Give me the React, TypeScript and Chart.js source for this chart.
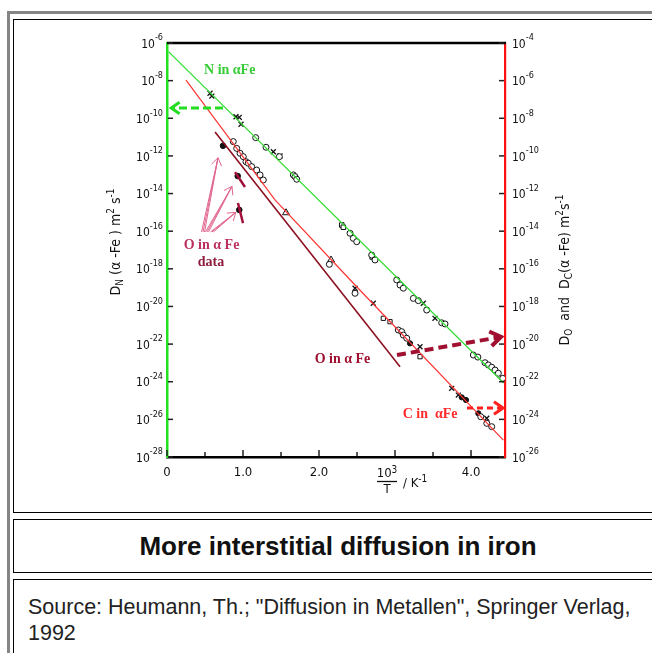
import React, { useEffect, useRef } from "react";
import { Chart, registerables } from "chart.js";

Chart.register(...registerables);

// x: 10^3/T in K^-1 ; values: log10 of D in m^2 s^-1
const xTickValues = [0, 0.5, 1, 1.5, 2, 2.5, 3, 3.5, 4];
const xTickLabels = ["0", "", "1.0", "", "2.0", "", "", "", "4.0"];
const leftExponents = [-28, -26, -24, -22, -20, -18, -16, -14, -12, -10, -8, -6];
const rightExponents = [-26, -24, -22, -20, -18, -16, -14, -12, -10, -8, -6, -4];

// N in alpha-Fe (left axis)
const nLineX = [0.02, 4.43];
const nLineLog = [-6.46, -24.07];
const nCircleX = [1.167, 1.303, 1.478, 1.662, 1.684, 1.707, 2.408, 2.451, 2.496, 2.693, 2.737, 3.022, 3.066, 3.109, 3.241, 3.307, 3.417, 3.614, 3.658, 4.03, 4.09, 4.184, 4.228, 4.272, 4.316, 4.359, 4.417];
const nCircleLog = [-11.03, -11.54, -12.04, -13.01, -13.1, -13.24, -16.11, -16.38, -16.56, -17.27, -17.53, -18.59, -18.86, -19.03, -19.57, -19.69, -20.19, -20.87, -20.93, -22.58, -22.69, -22.99, -23.11, -23.23, -23.38, -23.55, -23.82];
const nCrossX = [0.566, 0.59, 0.908, 0.951, 0.974, 1.399, 1.487, 3.372, 3.526];
const nCrossLog = [-8.67, -8.82, -9.92, -9.95, -10.32, -11.78, -12.0, -19.83, -20.63];
const nSquareX = [2.299, 2.32, 2.7];
const nSquareLog = [-15.67, -15.79, -17.37];

// C in alpha-Fe (right axis)
const cLineX = [0.25, 1.421, 2.474, 4.425];
const cLineLog = [-5.97, -12.34, -16.86, -25.1];
const cCircleX = [0.872, 0.917, 0.961, 1.004, 1.039, 1.07, 1.114, 1.18, 1.224, 1.267, 2.136, 2.474, 3.043, 3.088, 3.109, 3.154, 4.128, 4.207, 4.272];
const cCircleLog = [-9.24, -9.6, -9.86, -10.04, -10.31, -10.39, -10.57, -10.75, -11.01, -11.28, -15.76, -17.3, -19.25, -19.34, -19.52, -19.69, -23.86, -24.21, -24.39];
const cTriangleX = [1.566, 2.158];
const cTriangleLog = [-13.02, -15.53];
const cCrossX = [2.474, 2.714, 3.329, 3.746, 3.833, 4.207];
const cCrossLog = [-17.03, -17.83, -20.14, -22.35, -22.71, -23.94];
const cSquareX = [2.846, 2.934, 3.329];
const cSquareLog = [-18.63, -18.81, -20.67];
const cDotX = [3.197, 3.878, 3.934, 4.096];
const cDotLog = [-19.96, -22.83, -22.97, -23.68];

// O in alpha-Fe (right axis)
const oLineX = [0.632, 3.066];
const oLineLog = [-8.73, -21.2];
const oDotX = [0.737, 0.93, 0.951];
const oDotLog = [-9.46, -11.07, -12.87];
const oSeg1X = [0.895, 1.026];
const oSeg1Log = [-10.86, -11.65];
const oSeg2X = [0.934, 1.0];
const oSeg2Log = [-12.5, -13.57];

const pts = (xs: number[], ls: number[]) => xs.map((x, i) => ({ x, y: Math.pow(10, ls[i]) }));

const AXFONT = "'DejaVu Sans Condensed', 'DejaVu Sans', sans-serif";
const SERIF = "'Liberation Serif', 'DejaVu Serif', serif";

type Part = { t: string; s: number; dy: number };
function partsWidth(ctx: CanvasRenderingContext2D, parts: Part[], family: string, weight = "normal") {
  let w = 0;
  parts.forEach((p) => {
    ctx.font = `${weight} ${p.s}px ${family}`;
    w += ctx.measureText(p.t).width;
  });
  return w;
}
function drawParts(ctx: CanvasRenderingContext2D, parts: Part[], x: number, y: number, family: string, color: string, align: "center" | "left" | "right", weight = "normal") {
  const w = partsWidth(ctx, parts, family, weight);
  let cx = align === "center" ? x - w / 2 : align === "right" ? x - w : x;
  ctx.textAlign = "left";
  ctx.textBaseline = "middle";
  ctx.fillStyle = color;
  parts.forEach((p) => {
    ctx.font = `${weight} ${p.s}px ${family}`;
    ctx.fillText(p.t, cx, y + p.dy);
    cx += ctx.measureText(p.t).width;
  });
}

function arrow(ctx: CanvasRenderingContext2D, x1: number, y1: number, x2: number, y2: number, color: string, width: number, dash: number[], head: number) {
  ctx.save();
  ctx.strokeStyle = color;
  ctx.lineWidth = width;
  ctx.setLineDash(dash);
  ctx.beginPath();
  ctx.moveTo(x1, y1);
  ctx.lineTo(x2, y2);
  ctx.stroke();
  ctx.setLineDash([]);
  const a = Math.atan2(y2 - y1, x2 - x1);
  const h = 0.6;
  ctx.lineJoin = "miter";
  ctx.beginPath();
  ctx.moveTo(x2 - head * Math.cos(a - h), y2 - head * Math.sin(a - h));
  ctx.lineTo(x2, y2);
  ctx.lineTo(x2 - head * Math.cos(a + h), y2 - head * Math.sin(a + h));
  ctx.stroke();
  ctx.restore();
}

const powLabel = (v: number): Part[] => [
  { t: "10", s: 12, dy: 1.5 },
  { t: String(Math.round(Math.log10(v))), s: 9, dy: -5 },
];

const decorPlugin = {
  id: "decor",
  afterDraw(chart: any) {
    const ctx: CanvasRenderingContext2D = chart.ctx;
    const { left, right, top, bottom } = chart.chartArea;
    const xs = chart.scales.x;
    const ys = chart.scales.y;
    const ys2 = chart.scales.y2;
    const P = (x: number, e: number) => [xs.getPixelForValue(x), ys.getPixelForValue(Math.pow(10, e))];
    ctx.save();
    // top frame line
    ctx.strokeStyle = "#000";
    ctx.lineWidth = 2.5;
    ctx.beginPath();
    ctx.moveTo(left, top);
    ctx.lineTo(right + 1, top);
    ctx.stroke();
    // inward ticks and power-of-ten labels
    ctx.lineWidth = 1.5;
    ctx.strokeStyle = "#222";
    ys.ticks.forEach((t: any) => {
      const py = ys.getPixelForValue(t.value);
      ctx.beginPath();
      ctx.moveTo(left + 1, py);
      ctx.lineTo(left + 6, py);
      ctx.stroke();
      drawParts(ctx, powLabel(t.value), left - 4, py, AXFONT, "#111", "right");
    });
    ys2.ticks.forEach((t: any) => {
      const py = ys2.getPixelForValue(t.value);
      ctx.beginPath();
      ctx.moveTo(right - 6, py);
      ctx.lineTo(right - 1, py);
      ctx.stroke();
      drawParts(ctx, powLabel(t.value), right + 7, py, AXFONT, "#111", "left");
    });
    xs.ticks.forEach((t: any) => {
      const px = xs.getPixelForValue(t.value);
      const len = Number.isInteger(t.value) ? 6 : 4;
      ctx.beginPath();
      ctx.moveTo(px, bottom - 1);
      ctx.lineTo(px, bottom - 1 - len);
      ctx.stroke();
    });

    // left axis title
    ctx.save();
    ctx.translate(left - 51, (top + bottom) / 2 - 8);
    ctx.rotate(-Math.PI / 2);
    drawParts(ctx, [
      { t: "D", s: 14, dy: 0 },
      { t: "N", s: 10, dy: 4 },
      { t: " (α -Fe ) m", s: 14, dy: 0 },
      { t: "2", s: 10, dy: -5 },
      { t: " s", s: 14, dy: 0 },
      { t: "-1", s: 10, dy: -5 },
    ], 0, 0, AXFONT, "#111", "center");
    ctx.restore();

    // right axis title
    ctx.save();
    ctx.translate(right + 60, (top + bottom) / 2 + 20);
    ctx.rotate(-Math.PI / 2);
    drawParts(ctx, [
      { t: "D", s: 14, dy: 0 },
      { t: "O", s: 10, dy: 4 },
      { t: "  and  D", s: 14, dy: 0 },
      { t: "C", s: 10, dy: 4 },
      { t: "(α -Fe) m", s: 14, dy: 0 },
      { t: "2", s: 10, dy: -5 },
      { t: "s", s: 14, dy: 0 },
      { t: "-1", s: 10, dy: -5 },
    ], 0, 0, AXFONT, "#111", "center");
    ctx.restore();

    // x axis title: 10^3 / T  / K^-1
    const fx = xs.getPixelForValue(3) - 8;
    drawParts(ctx, [
      { t: "10", s: 13, dy: 0 },
      { t: "3", s: 10, dy: -4 },
    ], fx, bottom + 17, AXFONT, "#111", "center");
    ctx.strokeStyle = "#111";
    ctx.lineWidth = 1.3;
    ctx.beginPath();
    ctx.moveTo(fx - 10, bottom + 24.5);
    ctx.lineTo(fx + 10, bottom + 24.5);
    ctx.stroke();
    drawParts(ctx, [{ t: "T", s: 13, dy: 0 }], fx, bottom + 33, AXFONT, "#111", "center");
    drawParts(ctx, [
      { t: "/ K", s: 13, dy: 0 },
      { t: "-1", s: 10, dy: -5 },
    ], fx + 16, bottom + 27, AXFONT, "#111", "left");

    // labels
    let p = P(0.487, -7.43);
    drawParts(ctx, [{ t: "N in αFe", s: 14, dy: 0 }], p[0], p[1], SERIF, "#35cc35", "left", "bold");
    p = P(0.586, -16.73);
    drawParts(ctx, [{ t: "O in α Fe", s: 14, dy: 0 }], p[0], p[1], SERIF, "#bb3060", "center", "bold");
    p = P(0.579, -17.64);
    drawParts(ctx, [{ t: "data", s: 14, dy: 0 }], p[0], p[1], SERIF, "#8e1a3c", "center", "bold");
    p = P(2.309, -22.79);
    drawParts(ctx, [{ t: "O in α Fe", s: 14, dy: 0 }], p[0], p[1], SERIF, "#a01030", "center", "bold");
    p = P(3.461, -25.715);
    drawParts(ctx, [{ t: "C in  αFe", s: 14, dy: 0 }], p[0], p[1], SERIF, "#ff2a2a", "center", "bold");

    // arrows
    let a = P(0.737, -9.454), b = P(0.03, -9.454);
    arrow(ctx, a[0], a[1], b[0] + 2, b[1], "#22dd22", 3, [8, 4], 10);
    a = P(3.026, -22.58); b = P(4.395, -21.62);
    arrow(ctx, a[0], a[1], b[0], b[1], "#a01030", 4, [9, 5], 13);
    a = P(3.947, -25.4); b = P(4.421, -25.4);
    arrow(ctx, a[0], a[1], b[0], b[1], "#ff2020", 3, [6, 4], 11);

    // pink pointer arrows
    const pink: [number, number, number, number][] = [
      [0.474, -16.04, 0.671, -12.1],
      [0.526, -16.04, 0.855, -13.62],
      [0.592, -16.04, 0.905, -15.0],
    ];
    pink.forEach(([x1, e1, x2, e2]) => {
      const s = P(x1, e1), t = P(x2, e2);
      ctx.save();
      ctx.strokeStyle = "#e0668e";
      ctx.lineWidth = 1;
      ctx.beginPath();
      ctx.moveTo(s[0] - 1.5, s[1]);
      ctx.lineTo(t[0], t[1]);
      ctx.moveTo(s[0] + 1.5, s[1]);
      ctx.lineTo(t[0], t[1]);
      ctx.stroke();
      ctx.restore();
      arrow(ctx, s[0], s[1], t[0], t[1], "#e0668e", 1, [], 9);
    });
    ctx.restore();
  },
};

export default function App() {
  const ref = useRef<HTMLCanvasElement | null>(null);
  useEffect(() => {
    if (!ref.current) return;
    const marker = (data: any[], style: string, r: number, fill: string, axis: string, bw = 1) => ({
      type: "scatter" as const,
      data,
      yAxisID: axis,
      showLine: false,
      pointStyle: style,
      pointRadius: r,
      pointBorderColor: "#111",
      pointBackgroundColor: fill,
      pointBorderWidth: bw,
    });
    const line = (data: any[], color: string, width: number, axis: string) => ({
      type: "scatter" as const,
      data,
      yAxisID: axis,
      showLine: true,
      borderColor: color,
      borderWidth: width,
      pointRadius: 0,
      fill: false,
      tension: 0,
    });
    const chart = new Chart(ref.current, {
      type: "scatter",
      data: {
        datasets: [
          line(pts(nLineX, nLineLog), "#33dd33", 1.3, "y"),
          line(pts(cLineX, cLineLog), "#ff3333", 1.2, "y2"),
          line(pts(oLineX, oLineLog), "#8c1020", 1.6, "y2"),
          line(pts(oSeg1X, oSeg1Log), "#a0103a", 2.5, "y2"),
          line(pts(oSeg2X, oSeg2Log), "#a0103a", 2.5, "y2"),
          marker(pts(nCircleX, nCircleLog), "circle", 3, "#fff", "y"),
          marker(pts(nCrossX, nCrossLog), "crossRot", 3.5, "#fff", "y", 1.3),
          marker(pts(nSquareX, nSquareLog), "rect", 3.2, "#fff", "y"),
          marker(pts(cCircleX, cCircleLog), "circle", 3, "#fff", "y2"),
          marker(pts(cTriangleX, cTriangleLog), "triangle", 4, "#fff", "y2"),
          marker(pts(cCrossX, cCrossLog), "crossRot", 3.5, "#fff", "y2", 1.3),
          marker(pts(cSquareX, cSquareLog), "rect", 3, "#fff", "y2"),
          marker(pts(cDotX, cDotLog), "circle", 2.6, "#111", "y2"),
          marker(pts(oDotX, oDotLog), "circle", 2.8, "#111", "y2"),
        ] as any,
      },
      options: {
        animation: false,
        responsive: false,
        events: [],
        layout: { padding: { top: 23, left: 0, right: 0, bottom: 0 } },
        plugins: { legend: { display: false }, tooltip: { enabled: false } },
        scales: {
          x: {
            type: "linear",
            position: "bottom",
            min: 0,
            max: 4.447,
            afterBuildTicks: (s: any) => {
              s.ticks = xTickValues.map((v) => ({ value: v }));
            },
            afterFit: (s: any) => {
              s.height = 53;
            },
            grid: { display: false, drawTicks: false },
            border: { display: true, color: "#000", width: 2.5 },
            ticks: {
              autoSkip: false,
              maxRotation: 0,
              padding: 8,
              color: "#111",
              font: { family: AXFONT, size: 13 },
              callback: (_v: any, i: number) => xTickLabels[i],
            },
          },
          y: {
            type: "logarithmic",
            position: "left",
            min: 1e-28,
            max: 1e-6,
            afterBuildTicks: (s: any) => {
              s.ticks = leftExponents.map((e) => ({ value: Math.pow(10, e) }));
            },
            afterFit: (s: any) => {
              s.width = 153;
            },
            grid: { display: false, drawTicks: false },
            border: { display: true, color: "#22e022", width: 2.5 },
            ticks: { display: false, autoSkip: false },
          },
          y2: {
            type: "logarithmic",
            position: "right",
            min: 1e-26,
            max: 1e-4,
            afterBuildTicks: (s: any) => {
              s.ticks = rightExponents.map((e) => ({ value: Math.pow(10, e) }));
            },
            afterFit: (s: any) => {
              s.width = 139;
            },
            grid: { display: false, drawTicks: false },
            border: { display: true, color: "#ff1010", width: 2.2 },
            ticks: { display: false, autoSkip: false },
          },
        },
      } as any,
      plugins: [decorPlugin],
    });
    return () => chart.destroy();
  }, []);

  return (
    <div style={{ position: "fixed", left: 0, top: 0, width: 652, height: 653, overflow: "hidden", background: "#fff" }}>
      <div style={{ position: "absolute", left: 7, top: 11, width: 720, height: 720, borderLeft: "3px solid #858585", borderTop: "3px solid #858585" }} />
      <div style={{ position: "absolute", left: 13, top: 19, width: 648, height: 492, border: "1px solid #000" }}>
        <canvas ref={ref} width={630} height={490} style={{ position: "absolute", left: 0, top: 0, width: 630, height: 490 }} />
      </div>
      <div style={{ position: "absolute", left: 13, top: 519, width: 648, height: 52, border: "1px solid #000", display: "flex", alignItems: "center", justifyContent: "center", fontFamily: "'Liberation Sans', Arial, sans-serif", fontWeight: "bold", fontSize: 26, color: "#111", whiteSpace: "nowrap" }}>
        More interstitial diffusion in iron
      </div>
      <div style={{ position: "absolute", left: 13, top: 579, width: 648, height: 120, border: "1px solid #000", fontFamily: "'Liberation Sans', Arial, sans-serif", fontSize: 21.5, lineHeight: "26px", color: "#222" }}>
        <div style={{ paddingLeft: 14, paddingTop: 14, whiteSpace: "nowrap" }}>
          <div>Source: Heumann, Th.; "Diffusion in Metallen", Springer Verlag,</div>
          <div>1992</div>
        </div>
      </div>
    </div>
  );
}
